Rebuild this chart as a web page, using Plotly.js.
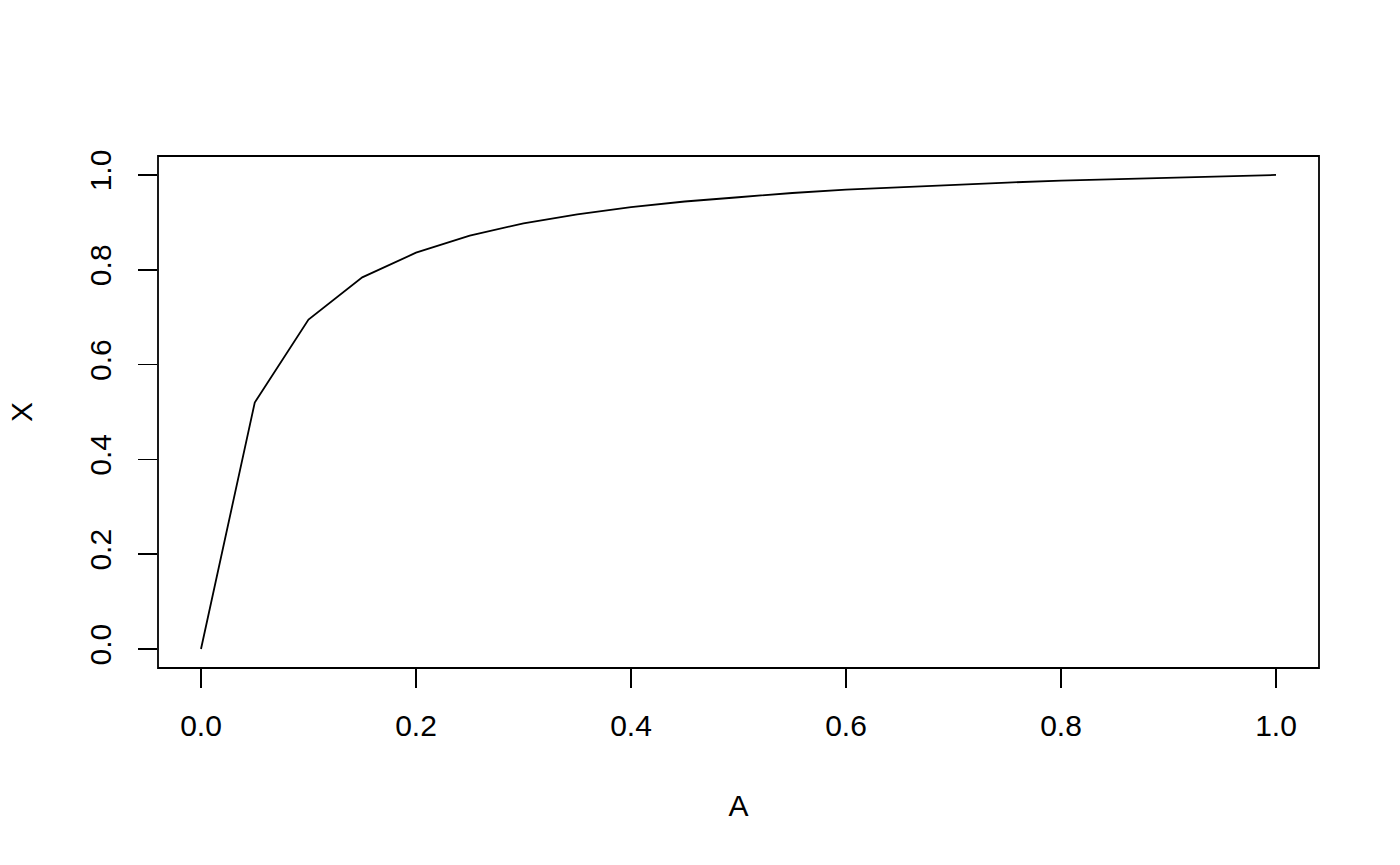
<!DOCTYPE html>
<html>
<head>
<meta charset="utf-8">
<script src="https://cdn.plot.ly/plotly-3.0.1.min.js"></script>
<style>html,body{margin:0;padding:0;background:#fff;}#chart{width:1400px;height:865px;}</style>
</head>
<body>
<div id="chart"></div>
<script>
const A = [0, 0.05, 0.1, 0.15, 0.2, 0.25, 0.3, 0.35, 0.4, 0.45, 0.5, 0.55, 0.6, 0.65, 0.7, 0.75, 0.8, 0.85, 0.9, 0.95, 1.0];
const X = [0, 0.520, 0.695, 0.784, 0.836, 0.872, 0.898, 0.917, 0.932, 0.944, 0.953, 0.962, 0.969, 0.974, 0.980, 0.984, 0.988, 0.991, 0.995, 0.997, 1.0];
const tickVals = [0, 0.2, 0.4, 0.6, 0.8, 1.0];
const tickText = ["0.0", "0.2", "0.4", "0.6", "0.8", "1.0"];
const xTitle = "A";
const yTitle = "X";

const font = {family: "Liberation Sans, Arial, Helvetica, sans-serif", size: 30, color: "#000"};

const trace = {
  x: A, y: X, type: "scatter", mode: "lines",
  line: {color: "#000", width: 1.8},
  hoverinfo: "skip"
};

const layout = {
  width: 1400, height: 865,
  margin: {l: 158, r: 81, t: 156, b: 197},
  paper_bgcolor: "#fff", plot_bgcolor: "#fff",
  showlegend: false,
  font: font,
  xaxis: {
    range: [-0.04, 1.04], showgrid: false, zeroline: false, showline: false,
    ticks: "outside", ticklen: 19, tickwidth: 1.8, tickcolor: "#000",
    tickvals: tickVals, ticktext: tickText, tickfont: font,
    ticklabelstandoff: 12,
    title: {text: xTitle, font: font, standoff: 53}
  },
  yaxis: {
    range: [-0.04, 1.04], showgrid: false, zeroline: false, showline: false,
    ticks: "outside", ticklen: 19, tickwidth: 1.8, tickcolor: "#000",
    tickvals: tickVals, ticktext: tickText, tickfont: font, tickangle: -90,
    ticklabelstandoff: 15,
    title: {text: yTitle, font: font, standoff: 42}
  },
  shapes: [{
    type: "rect", xref: "paper", yref: "paper", x0: 0, x1: 1, y0: 0, y1: 1,
    line: {color: "#000", width: 1.8}, fillcolor: "rgba(0,0,0,0)"
  }]
};

Plotly.newPlot("chart", [trace], layout, {displayModeBar: false, staticPlot: true});
</script>
</body>
</html>
